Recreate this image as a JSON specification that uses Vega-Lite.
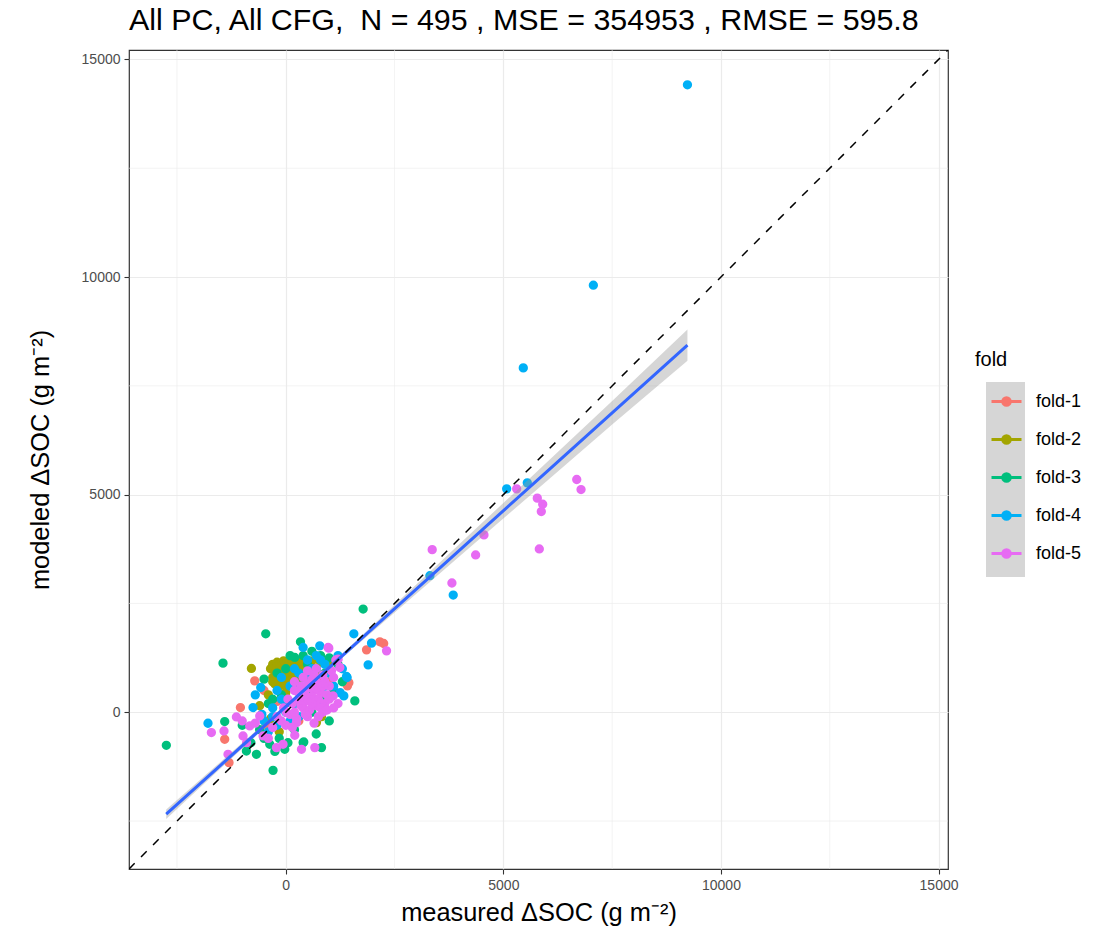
{
  "$schema": "https://vega.github.io/schema/vega-lite/v6.json",
  "width": 819,
  "height": 819,
  "autosize": {"type": "none"},
  "padding": {"left": 129, "top": 50, "right": 167, "bottom": 75},
  "background": "white",
  "title": {"text": "All PC, All CFG,\u00a0 N = 495 , MSE = 354953 , RMSE = 595.8", "anchor": "start", "frame": "group", "fontSize": 30.4, "font": "Liberation Sans", "fontWeight": "normal", "color": "black", "offset": 13},
  "config": {
    "font": "Liberation Sans",
    "view": {"stroke": "#333333", "strokeWidth": 1.2},
    "axis": {"domain": false, "gridColor": "#EBEBEB", "gridWidth": 1.2, "tickColor": "#333333", "tickSize": 5, "tickWidth": 1.1, "labelFontSize": 14, "labelColor": "#4D4D4D", "titleFontSize": 25.4, "titleFontWeight": "normal", "titleColor": "black", "labelPadding": 3}
  },
  "datasets": {
    "minorx": [{"measured": -2500}, {"measured": 2500}, {"measured": 7500}, {"measured": 12500}],
    "minory": [{"modeled": -2500}, {"modeled": 2500}, {"modeled": 7500}, {"modeled": 12500}],
    "diag": [{"measured": -3602, "modeled": -3602}, {"measured": 15217, "modeled": 15217}],
    "keys": [{"key": "k1"}, {"key": "k2"}, {"key": "k3"}, {"key": "k4"}, {"key": "k5"}],
    "fit": [
      {"measured": -2747, "fit": -2342, "lo": -2452, "hi": -2232},
      {"measured": -1500, "fit": -1220, "lo": -1295, "hi": -1145},
      {"measured": 0, "fit": 130, "lo": 85, "hi": 175},
      {"measured": 300, "fit": 400, "lo": 360, "hi": 440},
      {"measured": 1500, "fit": 1480, "lo": 1425, "hi": 1535},
      {"measured": 3000, "fit": 2830, "lo": 2725, "hi": 2935},
      {"measured": 4500, "fit": 4180, "lo": 4020, "hi": 4340},
      {"measured": 6000, "fit": 5530, "lo": 5315, "hi": 5745},
      {"measured": 7500, "fit": 6880, "lo": 6610, "hi": 7150},
      {"measured": 9230, "fit": 8437, "lo": 8077, "hi": 8797}
    ],
    "pts": [
      {"measured": 2162, "modeled": 1618, "fold": "fold-1"},
      {"measured": 2250, "modeled": 1580, "fold": "fold-1"},
      {"measured": 1856, "modeled": 1434, "fold": "fold-1"},
      {"measured": 1418, "modeled": 606, "fold": "fold-1"},
      {"measured": 1450, "modeled": 680, "fold": "fold-1"},
      {"measured": -713, "modeled": 721, "fold": "fold-1"},
      {"measured": -1042, "modeled": 108, "fold": "fold-1"},
      {"measured": -1403, "modeled": -622, "fold": "fold-1"},
      {"measured": -1304, "modeled": -1158, "fold": "fold-1"},
      {"measured": 500, "modeled": 1000, "fold": "fold-1"},
      {"measured": 800, "modeled": 850, "fold": "fold-1"},
      {"measured": 300, "modeled": -200, "fold": "fold-1"},
      {"measured": -200, "modeled": 250, "fold": "fold-1"},
      {"measured": 900, "modeled": 1150, "fold": "fold-1"},
      {"measured": 1100, "modeled": 420, "fold": "fold-1"},
      {"measured": 100, "modeled": 700, "fold": "fold-1"},
      {"measured": 650, "modeled": 300, "fold": "fold-1"},
      {"measured": -450, "modeled": -300, "fold": "fold-1"},
      {"measured": -500, "modeled": 500, "fold": "fold-1"},
      {"measured": 200, "modeled": 1200, "fold": "fold-1"},
      {"measured": 1000, "modeled": 700, "fold": "fold-1"},
      {"measured": -789, "modeled": 1006, "fold": "fold-2"},
      {"measured": -300, "modeled": 1100, "fold": "fold-2"},
      {"measured": -200, "modeled": 1150, "fold": "fold-2"},
      {"measured": -100, "modeled": 1120, "fold": "fold-2"},
      {"measured": 0, "modeled": 1150, "fold": "fold-2"},
      {"measured": 100, "modeled": 1100, "fold": "fold-2"},
      {"measured": 200, "modeled": 1050, "fold": "fold-2"},
      {"measured": -250, "modeled": 950, "fold": "fold-2"},
      {"measured": -150, "modeled": 900, "fold": "fold-2"},
      {"measured": -50, "modeled": 1000, "fold": "fold-2"},
      {"measured": 50, "modeled": 950, "fold": "fold-2"},
      {"measured": 150, "modeled": 980, "fold": "fold-2"},
      {"measured": 250, "modeled": 900, "fold": "fold-2"},
      {"measured": -300, "modeled": 800, "fold": "fold-2"},
      {"measured": -200, "modeled": 750, "fold": "fold-2"},
      {"measured": -100, "modeled": 820, "fold": "fold-2"},
      {"measured": 0, "modeled": 780, "fold": "fold-2"},
      {"measured": 100, "modeled": 850, "fold": "fold-2"},
      {"measured": 200, "modeled": 800, "fold": "fold-2"},
      {"measured": 300, "modeled": 750, "fold": "fold-2"},
      {"measured": -250, "modeled": 650, "fold": "fold-2"},
      {"measured": -150, "modeled": 600, "fold": "fold-2"},
      {"measured": -50, "modeled": 700, "fold": "fold-2"},
      {"measured": 50, "modeled": 650, "fold": "fold-2"},
      {"measured": 150, "modeled": 600, "fold": "fold-2"},
      {"measured": 350, "modeled": 1000, "fold": "fold-2"},
      {"measured": 450, "modeled": 1150, "fold": "fold-2"},
      {"measured": 600, "modeled": 1180, "fold": "fold-2"},
      {"measured": 800, "modeled": 1150, "fold": "fold-2"},
      {"measured": 1012, "modeled": 1219, "fold": "fold-2"},
      {"measured": 1000, "modeled": 1100, "fold": "fold-2"},
      {"measured": 705, "modeled": -238, "fold": "fold-2"},
      {"measured": 821, "modeled": -100, "fold": "fold-2"},
      {"measured": -600, "modeled": 150, "fold": "fold-2"},
      {"measured": -350, "modeled": -150, "fold": "fold-2"},
      {"measured": -150, "modeled": -450, "fold": "fold-2"},
      {"measured": 400, "modeled": 500, "fold": "fold-2"},
      {"measured": 500, "modeled": 300, "fold": "fold-2"},
      {"measured": -400, "modeled": 400, "fold": "fold-2"},
      {"measured": 0, "modeled": 450, "fold": "fold-2"},
      {"measured": 300, "modeled": 1180, "fold": "fold-2"},
      {"measured": 700, "modeled": 900, "fold": "fold-2"},
      {"measured": -350, "modeled": 1000, "fold": "fold-2"},
      {"measured": -50, "modeled": 1180, "fold": "fold-2"},
      {"measured": 150, "modeled": 1150, "fold": "fold-2"},
      {"measured": 250, "modeled": 1150, "fold": "fold-2"},
      {"measured": -300, "modeled": 700, "fold": "fold-2"},
      {"measured": 0, "modeled": 600, "fold": "fold-2"},
      {"measured": 100, "modeled": 950, "fold": "fold-2"},
      {"measured": 200, "modeled": 650, "fold": "fold-2"},
      {"measured": -200, "modeled": 1050, "fold": "fold-2"},
      {"measured": 350, "modeled": 850, "fold": "fold-2"},
      {"measured": -100, "modeled": 650, "fold": "fold-2"},
      {"measured": 1778, "modeled": 2371, "fold": "fold-3"},
      {"measured": -460, "modeled": 1802, "fold": "fold-3"},
      {"measured": -1442, "modeled": 1128, "fold": "fold-3"},
      {"measured": -499, "modeled": 760, "fold": "fold-3"},
      {"measured": 338, "modeled": 1618, "fold": "fold-3"},
      {"measured": 207, "modeled": 1259, "fold": "fold-3"},
      {"measured": 1587, "modeled": 261, "fold": "fold-3"},
      {"measured": -2744, "modeled": -760, "fold": "fold-3"},
      {"measured": -1403, "modeled": -214, "fold": "fold-3"},
      {"measured": -904, "modeled": -891, "fold": "fold-3"},
      {"measured": -674, "modeled": -967, "fold": "fold-3"},
      {"measured": -292, "modeled": -1335, "fold": "fold-3"},
      {"measured": -23, "modeled": -852, "fold": "fold-3"},
      {"measured": 399, "modeled": -698, "fold": "fold-3"},
      {"measured": 821, "modeled": -813, "fold": "fold-3"},
      {"measured": 414, "modeled": -683, "fold": "fold-3"},
      {"measured": -368, "modeled": -737, "fold": "fold-3"},
      {"measured": 600, "modeled": 1400, "fold": "fold-3"},
      {"measured": 800, "modeled": 1300, "fold": "fold-3"},
      {"measured": 1000, "modeled": 1250, "fold": "fold-3"},
      {"measured": 500, "modeled": 1100, "fold": "fold-3"},
      {"measured": 100, "modeled": 1300, "fold": "fold-3"},
      {"measured": -100, "modeled": 400, "fold": "fold-3"},
      {"measured": -400, "modeled": 200, "fold": "fold-3"},
      {"measured": -600, "modeled": -400, "fold": "fold-3"},
      {"measured": -800, "modeled": -700, "fold": "fold-3"},
      {"measured": 300, "modeled": 200, "fold": "fold-3"},
      {"measured": 600, "modeled": 0, "fold": "fold-3"},
      {"measured": 900, "modeled": 300, "fold": "fold-3"},
      {"measured": 1100, "modeled": 500, "fold": "fold-3"},
      {"measured": 400, "modeled": 800, "fold": "fold-3"},
      {"measured": 200, "modeled": -400, "fold": "fold-3"},
      {"measured": 700, "modeled": 1000, "fold": "fold-3"},
      {"measured": -200, "modeled": 900, "fold": "fold-3"},
      {"measured": 1200, "modeled": 1100, "fold": "fold-3"},
      {"measured": -1000, "modeled": -300, "fold": "fold-3"},
      {"measured": -150, "modeled": -600, "fold": "fold-3"},
      {"measured": 50, "modeled": -700, "fold": "fold-3"},
      {"measured": -300, "modeled": 300, "fold": "fold-3"},
      {"measured": 0, "modeled": 1000, "fold": "fold-3"},
      {"measured": 400, "modeled": 1300, "fold": "fold-3"},
      {"measured": 900, "modeled": 900, "fold": "fold-3"},
      {"measured": 1300, "modeled": 700, "fold": "fold-3"},
      {"measured": -500, "modeled": -600, "fold": "fold-3"},
      {"measured": 500, "modeled": 500, "fold": "fold-3"},
      {"measured": -250, "modeled": -900, "fold": "fold-3"},
      {"measured": 700, "modeled": -500, "fold": "fold-3"},
      {"measured": 1000, "modeled": -200, "fold": "fold-3"},
      {"measured": 9230, "modeled": 14417, "fold": "fold-4"},
      {"measured": 7068, "modeled": 9813, "fold": "fold-4"},
      {"measured": 5458, "modeled": 7912, "fold": "fold-4"},
      {"measured": 5076, "modeled": 5133, "fold": "fold-4"},
      {"measured": 5550, "modeled": 5271, "fold": "fold-4"},
      {"measured": 3312, "modeled": 3138, "fold": "fold-4"},
      {"measured": 3848, "modeled": 2693, "fold": "fold-4"},
      {"measured": 1564, "modeled": 1802, "fold": "fold-4"},
      {"measured": 1971, "modeled": 1588, "fold": "fold-4"},
      {"measured": 1893, "modeled": 1089, "fold": "fold-4"},
      {"measured": 1410, "modeled": 799, "fold": "fold-4"},
      {"measured": 782, "modeled": 1526, "fold": "fold-4"},
      {"measured": 399, "modeled": 1489, "fold": "fold-4"},
      {"measured": 1334, "modeled": 376, "fold": "fold-4"},
      {"measured": 1395, "modeled": 822, "fold": "fold-4"},
      {"measured": -575, "modeled": 568, "fold": "fold-4"},
      {"measured": -752, "modeled": 108, "fold": "fold-4"},
      {"measured": -1787, "modeled": -253, "fold": "fold-4"},
      {"measured": -500, "modeled": -200, "fold": "fold-4"},
      {"measured": -300, "modeled": 100, "fold": "fold-4"},
      {"measured": -100, "modeled": 300, "fold": "fold-4"},
      {"measured": 100, "modeled": 600, "fold": "fold-4"},
      {"measured": 300, "modeled": 900, "fold": "fold-4"},
      {"measured": 500, "modeled": 1200, "fold": "fold-4"},
      {"measured": 700, "modeled": 1300, "fold": "fold-4"},
      {"measured": 900, "modeled": 1100, "fold": "fold-4"},
      {"measured": 600, "modeled": 700, "fold": "fold-4"},
      {"measured": 800, "modeled": 500, "fold": "fold-4"},
      {"measured": 400, "modeled": 400, "fold": "fold-4"},
      {"measured": 200, "modeled": 200, "fold": "fold-4"},
      {"measured": 0, "modeled": 0, "fold": "fold-4"},
      {"measured": -200, "modeled": -300, "fold": "fold-4"},
      {"measured": -400, "modeled": -450, "fold": "fold-4"},
      {"measured": 1000, "modeled": 900, "fold": "fold-4"},
      {"measured": 1200, "modeled": 1300, "fold": "fold-4"},
      {"measured": 600, "modeled": 1000, "fold": "fold-4"},
      {"measured": 300, "modeled": -100, "fold": "fold-4"},
      {"measured": -100, "modeled": 800, "fold": "fold-4"},
      {"measured": 700, "modeled": 200, "fold": "fold-4"},
      {"measured": 1100, "modeled": 600, "fold": "fold-4"},
      {"measured": -550, "modeled": -50, "fold": "fold-4"},
      {"measured": -700, "modeled": 400, "fold": "fold-4"},
      {"measured": -200, "modeled": 500, "fold": "fold-4"},
      {"measured": 0, "modeled": 200, "fold": "fold-4"},
      {"measured": 300, "modeled": 600, "fold": "fold-4"},
      {"measured": 500, "modeled": 800, "fold": "fold-4"},
      {"measured": 900, "modeled": 600, "fold": "fold-4"},
      {"measured": 1300, "modeled": 1000, "fold": "fold-4"},
      {"measured": 800, "modeled": 1200, "fold": "fold-4"},
      {"measured": 200, "modeled": 1000, "fold": "fold-4"},
      {"measured": -300, "modeled": -100, "fold": "fold-4"},
      {"measured": 100, "modeled": -200, "fold": "fold-4"},
      {"measured": 1250, "modeled": 450, "fold": "fold-4"},
      {"measured": 5306, "modeled": 5133, "fold": "fold-5"},
      {"measured": 6686, "modeled": 5348, "fold": "fold-5"},
      {"measured": 6785, "modeled": 5117, "fold": "fold-5"},
      {"measured": 5780, "modeled": 4919, "fold": "fold-5"},
      {"measured": 5904, "modeled": 4781, "fold": "fold-5"},
      {"measured": 5872, "modeled": 4611, "fold": "fold-5"},
      {"measured": 5826, "modeled": 3752, "fold": "fold-5"},
      {"measured": 4554, "modeled": 4075, "fold": "fold-5"},
      {"measured": 4363, "modeled": 3614, "fold": "fold-5"},
      {"measured": 3365, "modeled": 3736, "fold": "fold-5"},
      {"measured": 3818, "modeled": 2970, "fold": "fold-5"},
      {"measured": 2316, "modeled": 1411, "fold": "fold-5"},
      {"measured": 973, "modeled": 1488, "fold": "fold-5"},
      {"measured": 1203, "modeled": 1219, "fold": "fold-5"},
      {"measured": 1242, "modeled": 1028, "fold": "fold-5"},
      {"measured": 1050, "modeled": 950, "fold": "fold-5"},
      {"measured": 1088, "modeled": 375, "fold": "fold-5"},
      {"measured": 200, "modeled": 500, "fold": "fold-5"},
      {"measured": 350, "modeled": 600, "fold": "fold-5"},
      {"measured": 500, "modeled": 550, "fold": "fold-5"},
      {"measured": 650, "modeled": 500, "fold": "fold-5"},
      {"measured": 800, "modeled": 450, "fold": "fold-5"},
      {"measured": 950, "modeled": 400, "fold": "fold-5"},
      {"measured": 300, "modeled": 300, "fold": "fold-5"},
      {"measured": 450, "modeled": 250, "fold": "fold-5"},
      {"measured": 600, "modeled": 350, "fold": "fold-5"},
      {"measured": 750, "modeled": 300, "fold": "fold-5"},
      {"measured": 900, "modeled": 200, "fold": "fold-5"},
      {"measured": 150, "modeled": 200, "fold": "fold-5"},
      {"measured": 400, "modeled": 100, "fold": "fold-5"},
      {"measured": 550, "modeled": 50, "fold": "fold-5"},
      {"measured": 700, "modeled": 150, "fold": "fold-5"},
      {"measured": 850, "modeled": 0, "fold": "fold-5"},
      {"measured": 100, "modeled": -50, "fold": "fold-5"},
      {"measured": 250, "modeled": -150, "fold": "fold-5"},
      {"measured": 500, "modeled": -100, "fold": "fold-5"},
      {"measured": 650, "modeled": -250, "fold": "fold-5"},
      {"measured": -50, "modeled": 100, "fold": "fold-5"},
      {"measured": -200, "modeled": -100, "fold": "fold-5"},
      {"measured": 200, "modeled": 700, "fold": "fold-5"},
      {"measured": 400, "modeled": 800, "fold": "fold-5"},
      {"measured": 600, "modeled": 750, "fold": "fold-5"},
      {"measured": 750, "modeled": 650, "fold": "fold-5"},
      {"measured": 1000, "modeled": 600, "fold": "fold-5"},
      {"measured": 1100, "modeled": 800, "fold": "fold-5"},
      {"measured": -598, "modeled": -85, "fold": "fold-5"},
      {"measured": -828, "modeled": -315, "fold": "fold-5"},
      {"measured": -521, "modeled": -545, "fold": "fold-5"},
      {"measured": -1134, "modeled": -108, "fold": "fold-5"},
      {"measured": -1709, "modeled": -467, "fold": "fold-5"},
      {"measured": -1419, "modeled": -430, "fold": "fold-5"},
      {"measured": -982, "modeled": -545, "fold": "fold-5"},
      {"measured": -1327, "modeled": -967, "fold": "fold-5"},
      {"measured": -214, "modeled": -813, "fold": "fold-5"},
      {"measured": -62, "modeled": -737, "fold": "fold-5"},
      {"measured": 361, "modeled": -852, "fold": "fold-5"},
      {"measured": 667, "modeled": -813, "fold": "fold-5"},
      {"measured": 207, "modeled": -529, "fold": "fold-5"},
      {"measured": 15, "modeled": -7, "fold": "fold-5"},
      {"measured": 246, "modeled": -238, "fold": "fold-5"},
      {"measured": 989, "modeled": 1473, "fold": "fold-5"},
      {"measured": 1150, "modeled": 1200, "fold": "fold-5"},
      {"measured": -900, "modeled": -700, "fold": "fold-5"},
      {"measured": -700, "modeled": -250, "fold": "fold-5"},
      {"measured": -300, "modeled": -350, "fold": "fold-5"},
      {"measured": 0, "modeled": -300, "fold": "fold-5"},
      {"measured": -400, "modeled": -600, "fold": "fold-5"},
      {"measured": 900, "modeled": 700, "fold": "fold-5"},
      {"measured": 700, "modeled": 1000, "fold": "fold-5"},
      {"measured": 500, "modeled": 950, "fold": "fold-5"},
      {"measured": 1200, "modeled": 200, "fold": "fold-5"},
      {"measured": -1000, "modeled": -200, "fold": "fold-5"},
      {"measured": 300, "modeled": 450, "fold": "fold-5"},
      {"measured": 450, "modeled": 400, "fold": "fold-5"},
      {"measured": 700, "modeled": 550, "fold": "fold-5"},
      {"measured": 850, "modeled": 600, "fold": "fold-5"},
      {"measured": 1000, "modeled": 300, "fold": "fold-5"},
      {"measured": 350, "modeled": 150, "fold": "fold-5"},
      {"measured": 600, "modeled": 200, "fold": "fold-5"},
      {"measured": 800, "modeled": 100, "fold": "fold-5"},
      {"measured": 200, "modeled": 0, "fold": "fold-5"},
      {"measured": 450, "modeled": -50, "fold": "fold-5"},
      {"measured": 750, "modeled": -100, "fold": "fold-5"},
      {"measured": 950, "modeled": 50, "fold": "fold-5"},
      {"measured": 1100, "modeled": 100, "fold": "fold-5"},
      {"measured": 50, "modeled": 300, "fold": "fold-5"},
      {"measured": -100, "modeled": -200, "fold": "fold-5"},
      {"measured": 150, "modeled": -350, "fold": "fold-5"},
      {"measured": 500, "modeled": 650, "fold": "fold-5"},
      {"measured": 650, "modeled": 850, "fold": "fold-5"},
      {"measured": 850, "modeled": 850, "fold": "fold-5"}
    ]
  },
  "layer": [
    {
      "data": {"name": "minorx"},
      "mark": {"type": "rule", "color": "#EBEBEB", "strokeWidth": 0.6},
      "encoding": {
        "x": {"field": "measured", "type": "quantitative", "scale": {"domain": [-3602, 15217], "nice": false, "zero": false}, "axis": {"title": "measured ΔSOC (g m⁻²)"}}
      }
    },
    {
      "data": {"name": "minory"},
      "mark": {"type": "rule", "color": "#EBEBEB", "strokeWidth": 0.6},
      "encoding": {
        "y": {"field": "modeled", "type": "quantitative", "scale": {"domain": [-3602, 15217], "nice": false, "zero": false}, "axis": {"title": "modeled ΔSOC (g m⁻²)"}}
      }
    },
    {
      "data": {"name": "keys"},
      "mark": {"type": "point", "filled": true, "color": "#D6D6D6", "opacity": 0},
      "encoding": {
        "shape": {"field": "key", "type": "nominal", "scale": {"range": ["square", "square", "square", "square", "square"]},
          "legend": {"orient": "none", "legendX": 857, "legendY": 332, "title": null, "labelExpr": "''", "labelOffset": 0, "labelFontSize": 1, "symbolSize": 1482, "symbolOffset": 0, "rowPadding": 0, "padding": 0, "fillColor": "#D6D6D6", "symbolFillColor": "#D6D6D6", "symbolStrokeWidth": 0, "zindex": 1}}
      }
    },
    {
      "data": {"name": "pts"},
      "mark": {"type": "circle", "size": 40, "strokeWidth": 3, "opacity": 1},
      "encoding": {
        "x": {"field": "measured", "type": "quantitative", "scale": {"domain": [-3602, 15217], "nice": false, "zero": false}, "axis": {"title": "measured ΔSOC (g m⁻²)", "values": [0, 5000, 10000, 15000], "format": "d", "titlePadding": 8, "labelPadding": 4}},
        "y": {"field": "modeled", "type": "quantitative", "scale": {"domain": [-3602, 15217], "nice": false, "zero": false}, "axis": {"title": "modeled ΔSOC (g m⁻²)", "values": [0, 5000, 10000, 15000], "format": "d", "titlePadding": 28, "labelPadding": 4}},
        "color": {"field": "fold", "type": "nominal",
          "scale": {"domain": ["fold-1", "fold-2", "fold-3", "fold-4", "fold-5"], "range": ["#F8766D", "#A3A500", "#00BF7D", "#00B0F6", "#E76BF3"]},
          "legend": {"orient": "none", "legendX": 846, "legendY": 300, "title": "fold", "titleFontSize": 20, "titleFontWeight": "normal", "titleColor": "black", "titlePadding": 15,
            "labelFontSize": 18, "labelColor": "black", "symbolType": "M-1,0H1M0.25,0A0.25,0.25 0 1,1 -0.25,0A0.25,0.25 0 1,1 0.25,0Z", "symbolSize": 900, "symbolStrokeWidth": 3, "symbolOffset": 15, "rowPadding": 11, "labelOffset": 13, "padding": 0, "zindex": 2}},
        "stroke": {"field": "fold", "type": "nominal",
          "scale": {"domain": ["fold-1", "fold-2", "fold-3", "fold-4", "fold-5"], "range": ["#F8766D", "#A3A500", "#00BF7D", "#00B0F6", "#E76BF3"]}}
      }
    },
    {
      "data": {"name": "fit"},
      "mark": {"type": "area", "color": "#999999", "opacity": 0.4},
      "encoding": {
        "x": {"field": "measured", "type": "quantitative", "axis": {"title": "measured ΔSOC (g m⁻²)"}},
        "y": {"field": "lo", "type": "quantitative", "axis": {"title": "modeled ΔSOC (g m⁻²)"}},
        "y2": {"field": "hi"}
      }
    },
    {
      "data": {"name": "fit"},
      "mark": {"type": "line", "color": "#3366FF", "strokeWidth": 3},
      "encoding": {
        "x": {"field": "measured", "type": "quantitative", "axis": {"title": "measured ΔSOC (g m⁻²)"}},
        "y": {"field": "fit", "type": "quantitative", "axis": {"title": "modeled ΔSOC (g m⁻²)"}}
      }
    },
    {
      "data": {"name": "diag"},
      "mark": {"type": "line", "color": "black", "strokeWidth": 1.5, "strokeDash": [8, 9], "clip": true},
      "encoding": {
        "x": {"field": "measured", "type": "quantitative", "axis": {"title": "measured ΔSOC (g m⁻²)"}},
        "y": {"field": "modeled", "type": "quantitative", "axis": {"title": "modeled ΔSOC (g m⁻²)"}}
      }
    }
  ]
}
